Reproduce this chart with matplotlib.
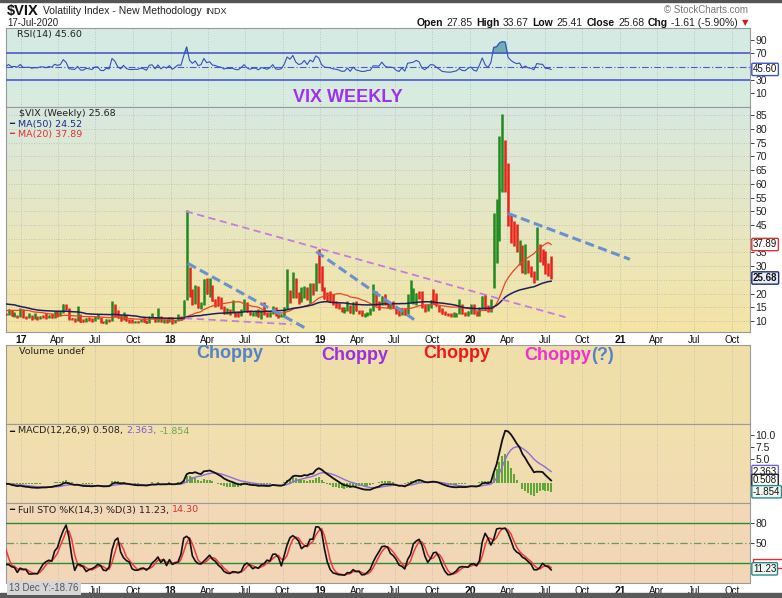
import numpy as np
import pandas as pd
import matplotlib
matplotlib.use("Agg")
import matplotlib.pyplot as plt
import matplotlib.dates as mdates
from matplotlib.colors import LinearSegmentedColormap
from matplotlib.patches import Rectangle

# ==============================
# WEEKLY $VIX DATA (Fridays)
# ==============================

close_2015 = [14.81, 24.39, 20.70, 15.74]
close_2016 = [18.21, 27.01, 27.02, 22.34, 20.20, 23.38, 25.40, 20.53, 19.81, 16.86,
              16.50, 14.02, 14.74, 13.10, 15.36, 13.62, 13.22, 15.70, 14.72, 15.04,
              15.20, 13.12, 13.47, 17.03, 19.41, 25.76, 14.77, 13.20, 12.67, 12.02,
              11.87, 11.39, 11.55, 11.34, 13.65, 11.98, 17.50, 15.37, 12.29, 13.29,
              13.48, 16.12, 13.34, 16.19, 22.51, 14.17, 12.85, 12.34, 14.12, 11.75,
              12.20, 11.44, 14.04]
close_2017 = [11.32, 11.23, 11.54, 10.58, 10.97, 10.85, 11.49, 11.47, 10.96, 11.66,
              11.28, 12.96, 12.37, 12.87, 15.96, 14.63, 10.82, 10.57, 10.40, 12.04,
              9.81, 9.75, 10.70, 10.38, 10.02, 11.18, 11.19, 9.51, 9.36, 10.29,
              10.03, 15.51, 14.26, 11.28, 10.13, 12.12, 10.17, 9.59, 9.51, 9.65,
              9.61, 10.15, 9.80, 9.14, 11.29, 11.43, 9.67, 11.43, 9.58, 10.49,
              9.90, 11.04]
close_2018 = [9.22, 10.16, 11.27, 11.08, 17.31, 29.06, 19.46, 16.49, 19.59, 14.64,
              15.80, 24.87, 19.97, 21.49, 17.41, 16.88, 15.41, 14.77, 12.65, 13.42,
              13.22, 13.46, 12.18, 11.98, 13.77, 16.09, 13.37, 12.18, 12.86, 13.03,
              11.64, 13.16, 12.64, 11.99, 12.86, 14.88, 12.07, 11.68, 12.12, 14.82,
              21.31, 19.89, 24.16, 19.51, 17.36, 18.14, 21.52, 18.07, 23.23, 21.63,
              30.11, 28.34]
close_2019 = [21.38, 18.19, 17.80, 17.42, 16.14, 15.72, 14.91, 13.51, 13.57, 16.05,
              12.88, 16.48, 13.71, 12.82, 12.01, 12.09, 12.73, 12.87, 16.04, 15.96,
              15.85, 18.71, 16.30, 15.28, 15.40, 15.08, 13.28, 12.39, 14.45, 12.16,
              17.61, 17.97, 18.47, 19.87, 18.98, 15.00, 13.74, 15.32, 17.22, 17.04,
              15.58, 14.25, 12.65, 12.30, 12.07, 12.05, 12.34, 12.62, 13.62, 12.63,
              12.51, 13.43]
close_2020 = [14.02, 12.56, 12.10, 14.56, 18.84, 15.47, 13.68, 17.08, 40.11, 41.94,
              57.83, 66.04, 65.54, 46.80, 41.67, 38.15, 35.93, 37.19, 27.98, 31.89,
              28.16, 27.51, 24.52, 36.09, 35.12, 34.73, 27.68, 27.29, 25.68]

# highs / lows start 1-Jul-2016
high_2016 = [26.7, 16.9, 14.0, 13.3, 13.1, 13.4, 12.3, 12.9, 14.0, 14.0,
             17.9, 20.5, 15.6, 15.7, 14.0, 17.1, 16.3, 16.4, 22.9, 23.0,
             15.2, 13.1, 14.4, 14.0, 13.2, 12.3, 14.7]
low_2016 = [14.5, 13.0, 12.4, 11.9, 11.7, 11.2, 11.0, 11.2, 11.3, 11.8,
            11.0, 14.9, 12.1, 12.3, 12.7, 13.4, 13.1, 13.1, 16.8, 12.8,
            12.6, 12.3, 12.3, 11.7, 11.3, 11.0, 11.5]
high_2017 = [14.3, 11.9, 12.9, 12.2, 12.9, 12.0, 11.9, 12.1, 13.0, 12.3,
             12.8, 13.6, 13.8, 13.7, 16.3, 16.3, 14.9, 11.1, 11.0, 15.6,
             12.4, 10.6, 11.0, 11.3, 11.1, 12.0, 12.4, 11.6, 10.0, 10.9,
             10.8, 17.3, 16.1, 14.1, 12.2, 13.4, 12.1, 10.6, 10.6, 10.0,
             10.0, 10.7, 11.6, 10.4, 11.5, 13.1, 11.5, 14.6, 11.7, 10.8,
             10.6, 11.3]
low_2017 = [11.0, 10.9, 11.2, 10.3, 10.6, 10.5, 10.6, 11.0, 10.7, 11.0,
            11.2, 11.1, 11.5, 11.9, 12.9, 13.9, 10.4, 10.2, 9.6, 10.1,
            9.8, 9.6, 9.6, 9.9, 9.8, 9.9, 10.9, 9.4, 9.2, 8.8,
            9.6, 10.1, 11.6, 11.0, 10.1, 10.4, 10.1, 9.4, 9.3, 9.1,
            9.2, 9.5, 9.6, 9.1, 9.2, 11.0, 9.5, 9.5, 9.5, 9.3,
            9.3, 9.6]
high_2018 = [11.3, 10.4, 12.7, 11.7, 17.8, 50.3, 29.6, 21.6, 23.0, 22.6,
             17.1, 25.2, 25.7, 25.6, 23.2, 18.0, 19.1, 18.8, 15.5, 14.6,
             14.4, 17.7, 13.7, 13.6, 14.4, 18.2, 17.0, 14.0, 13.4, 14.1,
             14.5, 14.2, 16.9, 13.2, 13.3, 15.6, 15.2, 13.2, 12.6, 15.0,
             28.8, 21.3, 27.9, 25.5, 20.6, 22.5, 22.6, 22.5, 23.8, 24.0,
             31.2, 36.2]
low_2018 = [9.0, 9.2, 9.9, 10.3, 11.0, 17.6, 18.9, 15.8, 16.2, 14.6,
            14.3, 15.8, 19.7, 18.9, 17.2, 15.2, 15.3, 14.4, 12.6, 12.5,
            12.3, 13.0, 11.6, 11.6, 12.0, 13.5, 13.3, 12.1, 11.9, 12.0,
            11.6, 10.8, 12.3, 11.6, 11.6, 12.5, 12.0, 11.1, 11.5, 11.6,
            14.5, 16.5, 18.4, 18.4, 16.2, 17.0, 18.5, 17.8, 16.4, 19.4,
            20.9, 24.0]
high_2019 = [29.9, 22.3, 20.5, 20.8, 20.0, 17.4, 16.5, 15.2, 15.1, 17.2,
             16.0, 17.0, 17.3, 14.2, 14.0, 13.1, 13.3, 14.8, 23.4, 20.8,
             17.4, 19.0, 19.9, 16.6, 16.3, 17.3, 15.5, 14.5, 14.5, 14.9,
             20.0, 24.8, 22.1, 20.3, 21.1, 20.9, 16.3, 16.1, 17.6, 21.5,
             20.1, 16.0, 14.9, 13.8, 13.0, 12.9, 13.4, 13.0, 17.9, 16.1,
             13.2, 13.8]
low_2019 = [21.0, 17.9, 17.4, 16.9, 15.8, 14.9, 14.5, 13.3, 13.0, 13.6,
            12.8, 12.6, 13.5, 12.7, 11.9, 11.6, 11.9, 12.3, 13.6, 15.3,
            14.0, 15.7, 15.9, 14.9, 14.4, 14.9, 12.4, 12.0, 12.2, 12.1,
            12.6, 16.7, 16.2, 15.7, 17.9, 14.7, 13.3, 13.7, 14.6, 16.2,
            15.4, 13.3, 12.6, 12.1, 11.9, 11.5, 11.6, 11.6, 12.7, 12.4,
            11.7, 11.8]
high_2020 = [16.2, 16.2, 13.8, 15.1, 19.0, 19.8, 16.0, 17.9, 49.5, 54.4,
             77.6, 85.5, 76.0, 67.5, 49.0, 46.4, 45.4, 39.5, 37.8, 38.0,
             32.1, 30.0, 28.1, 44.4, 37.9, 36.4, 35.6, 31.0, 33.67]
low_2020 = [12.4, 12.4, 11.7, 11.8, 14.5, 14.0, 13.4, 13.4, 22.0, 31.0,
            39.0, 57.0, 57.0, 44.5, 38.5, 37.2, 35.1, 30.5, 27.5, 27.1,
            27.6, 26.2, 24.0, 24.8, 31.5, 30.6, 27.2, 26.4, 25.41]

# last values printed on the chart
rsi_last = 45.60
ma50_last, ma20_last = 24.52, 37.89
close_last = 25.68
macd_last, signal_last, hist_last = 0.508, 2.363, -1.854
stok_last, stod_last = 11.23, 14.30

# hand-drawn trendlines: (start date, start value, end date, end value)
purple_lines = [("2018-02-07", 50.0, "2020-08-21", 11.4),
                ("2018-02-05", 11.0, "2018-10-23", 8.8)]
blue_lines = [("2018-02-12", 31.0, "2018-11-27", 7.3),
              ("2018-12-22", 35.3, "2019-08-19", 10.4),
              ("2020-04-03", 49.2, "2021-01-25", 32.5)]

# ==============================
# BUILD FRAME + INDICATORS
# ==============================

weeks = pd.date_range("2015-12-04", "2020-07-17", freq="W-FRI")
closes = close_2015 + close_2016 + close_2017 + close_2018 + close_2019 + close_2020
highs = high_2016 + high_2017 + high_2018 + high_2019 + high_2020
lows = low_2016 + low_2017 + low_2018 + low_2019 + low_2020
pad = len(closes) - len(highs)

df = pd.DataFrame({"close": closes,
                   "high": [np.nan] * pad + highs,
                   "low": [np.nan] * pad + lows}, index=weeks)

df["ma50"] = df["close"].rolling(50).mean()
df["ma20"] = df["close"].rolling(20).mean()

delta = df["close"].diff()
gain = delta.clip(lower=0).ewm(alpha=1 / 14, adjust=False).mean()
loss = (-delta.clip(upper=0)).ewm(alpha=1 / 14, adjust=False).mean()
df["rsi"] = 100 - 100 / (1 + gain / loss)

ema12 = df["close"].ewm(span=12, adjust=False).mean()
ema26 = df["close"].ewm(span=26, adjust=False).mean()
df["macd"] = ema12 - ema26
df["signal"] = df["macd"].ewm(span=9, adjust=False).mean()
df["hist"] = df["macd"] - df["signal"]

ll = df["low"].rolling(14).min()
hh = df["high"].rolling(14).max()
fast_k = 100 * (df["close"] - ll) / (hh - ll)
df["stok"] = fast_k.rolling(3).mean()
df["stod"] = df["stok"].rolling(3).mean()

df["up"] = df["close"] >= df["close"].shift(1)
vis = df[df.index >= "2016-11-20"]
x = mdates.date2num(vis.index.to_pydatetime())

# ==============================
# FIGURE / PANELS
# ==============================

W, H = 782, 598
fig = plt.figure(figsize=(W / 100, H / 100), dpi=100)
fig.patch.set_facecolor("white")
plt.rcParams["font.family"] = ["Liberation Sans", "DejaVu Sans"]


def fx(px):
    return px / W


def fy(py):
    return 1 - py / H


def panel(top, bottom):
    return fig.add_axes([fx(6), fy(bottom), fx(750) - fx(6), (bottom - top) / H])


def bg(ax, top_col, bottom_col):
    cmap = LinearSegmentedColormap.from_list("bg", [bottom_col, top_col])
    grad = np.linspace(0, 1, 256).reshape(-1, 1)
    ax.imshow(grad, aspect="auto", cmap=cmap, extent=(0, 1, 0, 1),
              transform=ax.transAxes, origin="lower", zorder=0)


x0 = mdates.date2num(pd.Timestamp("2017-01-01")) - 36.6
x1 = mdates.date2num(pd.Timestamp("2017-01-01")) + 4.868 * 365.25

qticks, qlabels = [], []
for yr in range(2017, 2022):
    for m, lab in [(1, str(yr)[2:]), (4, "Apr"), (7, "Jul"), (10, "Oct")]:
        qticks.append(mdates.date2num(pd.Timestamp(yr, m, 1)))
        qlabels.append(lab)


def style(ax, ylim, yticks, ylabels=None, xlabels=None, hgrid=True):
    ax.set_xlim(x0, x1)
    ax.set_ylim(*ylim)
    ax.yaxis.tick_right()
    ax.set_yticks(yticks)
    if ylabels is not None:
        ax.set_yticklabels(ylabels)
    ax.tick_params(axis="y", direction="out", length=3, width=0.6, pad=1,
                   labelsize=7.5, colors="#222222")
    ax.set_xticks(qticks)
    ax.tick_params(axis="x", length=0, pad=2, labelsize=7, colors="#111111")
    if xlabels is not None:
        ax.set_xticklabels(xlabels)
        for t in ax.get_xticklabels():
            if t.get_text().isdigit():
                t.set_fontweight("bold")
                t.set_fontsize(7.5)
    else:
        ax.set_xticklabels([])
    ax.grid(axis="x", color="#b9b9b0", lw=0.6, ls=(0, (1, 2)), zorder=1)
    if hgrid:
        ax.grid(axis="y", color="#b9b9b0", lw=0.6, ls=(0, (1, 2)), zorder=1)
    for sp in ax.spines.values():
        sp.set_color("#9a9a9a")
        sp.set_linewidth(0.8)


ax_rsi = panel(28, 107)
ax_px = panel(107, 332)
ax_vol = panel(345, 424)
ax_macd = panel(424, 503)
ax_sto = panel(503, 583)

bg(ax_rsi, "#d4eae3", "#d8ecdf")
bg(ax_px, "#d8e9e0", "#f5e4a4")
bg(ax_vol, "#efdfa9", "#efdea9")
bg(ax_macd, "#f1e0ad", "#f2dbb3")
bg(ax_sto, "#f2d9b6", "#f3d6b8")

# ------------------------------
# RSI
# ------------------------------
ax_rsi.plot(x, vis["rsi"], color="#3550c0", lw=0.8, zorder=4)
ax_rsi.fill_between(x, vis["rsi"], 70, where=vis["rsi"] > 70,
                    color="#5b9ea6", alpha=0.8, zorder=3, interpolate=True)
ax_rsi.axhline(70, color="#4a5cc8", lw=1.2, zorder=3)
ax_rsi.axhline(30, color="#4a5cc8", lw=1.2, zorder=3)
ax_rsi.axhline(50, color="#4a5cc8", lw=0.8, ls=(0, (6, 2, 1, 2)), zorder=3)
style(ax_rsi, (-11, 108), [10, 30, 50, 70, 90],
      ylabels=["10", "30", "", "70", "90"], hgrid=False)

# ------------------------------
# PRICE
# ------------------------------
green, red = "#1f8a1f", "#e8231a"
up = vis["up"].values
for mask, col in [(up, green), (~up, red)]:
    ax_px.vlines(x[mask], vis["low"].values[mask], vis["high"].values[mask],
                 color=col, lw=1.8, zorder=4)
    ax_px.hlines(vis["close"].values[mask], x[mask], x[mask] + 2.6,
                 color=col, lw=1.1, zorder=4)

ax_px.plot(x, vis["ma20"], color="#e8452a", lw=0.9, zorder=5)
ax_px.plot(x, vis["ma50"], color="#1c1f5e", lw=1.1, zorder=5)

for d0, v0, d1, v1 in purple_lines:
    ax_px.plot(mdates.date2num([pd.Timestamp(d0), pd.Timestamp(d1)]), [v0, v1],
               color="#c47ddc", lw=1.3, ls=(0, (4, 2.5)), zorder=6)
for d0, v0, d1, v1 in blue_lines:
    ax_px.plot(mdates.date2num([pd.Timestamp(d0), pd.Timestamp(d1)]), [v0, v1],
               color="#6a90cf", lw=2.2, ls=(0, (3, 1.5)), zorder=6)

px_ticks = list(range(10, 90, 5))
px_labels = ["" if v in (25, 40) else str(v) for v in px_ticks]
style(ax_px, (6, 88), px_ticks, ylabels=px_labels, xlabels=qlabels)

# ------------------------------
# VOLUME (empty)
# ------------------------------
style(ax_vol, (0, 1), [], hgrid=False)

# ------------------------------
# MACD
# ------------------------------
ax_macd.vlines(x, 0, vis["hist"], color="#5aa632", lw=1.4, zorder=3)
ax_macd.plot(x, vis["signal"], color="#8c6fd8", lw=1.0, zorder=4)
ax_macd.plot(x, vis["macd"], color="#111111", lw=1.3, zorder=5)
style(ax_macd, (-4.2, 12.3), [-2.5, 0, 2.5, 5, 7.5, 10],
      ylabels=["", "", "", "5.0", "7.5", "10.0"], hgrid=False)

# ------------------------------
# FULL STOCHASTIC
# ------------------------------
ax_sto.axhline(80, color="#2e8b2e", lw=1.0, zorder=3)
ax_sto.axhline(20, color="#2e8b2e", lw=1.0, zorder=3)
ax_sto.axhline(50, color="#6f9a55", lw=0.9, ls=(0, (6, 2, 1, 2)), zorder=3)
ax_sto.plot(x, vis["stod"], color="#ef3b3b", lw=1.1, zorder=4)
ax_sto.plot(x, vis["stok"], color="#111111", lw=1.2, zorder=5)
sto_xlabels = ["", ""] + qlabels[2:]
style(ax_sto, (-10, 110), [20, 50, 80], ylabels=["", "50", "80"],
      xlabels=sto_xlabels, hgrid=False)

# ------------------------------
# LAST VALUE TAGS
# ------------------------------


def tag(ax, val, txt, ec, fc="white", weight="normal"):
    ax.text(1.004, val, txt, transform=ax.get_yaxis_transform(),
            ha="left", va="center", fontsize=7, fontweight=weight,
            color="#111111", zorder=20, clip_on=False,
            bbox=dict(boxstyle="round,pad=0.12", fc=fc, ec=ec, lw=1.0))


tag(ax_rsi, rsi_last, f"{rsi_last:.2f}", "#3a55c8")
tag(ax_px, ma20_last, f"{ma20_last:.2f}", "#e03030")
tag(ax_px, close_last, f"{close_last:.2f}", "#1c2a6a", fc="#e8eef8", weight="bold")
tag(ax_macd, signal_last, f"{signal_last:.3f}", "#7a5fd0")
tag(ax_macd, macd_last, f"{macd_last:.3f}", "#222222")
tag(ax_macd, hist_last, f"{hist_last:.3f}", "#2a8a8a", fc="#eef6f2")

# %D tag sits behind the %K tag, only its red frame peeks out
ax_sto.add_patch(Rectangle((1.004, stod_last - 2), 0.042, 13,
                           transform=ax_sto.get_yaxis_transform(),
                           fc="white", ec="#e03030", lw=1.0,
                           clip_on=False, zorder=19))
tag(ax_sto, stok_last, f"{stok_last:.2f}", "#2a8a8a", fc="#eef6f2")

# ==============================
# TEXT
# ==============================

renderer = fig.canvas.get_renderer()


def run_left(x_px, y_px, parts, gap=4):
    xp = x_px
    for s, kw in parts:
        t = fig.text(fx(xp), fy(y_px), s, ha="left", va="center", **kw)
        xp += t.get_window_extent(renderer).width + gap


def run_right(x_px, y_px, parts, gap=3.5):
    xp = x_px
    for s, kw in reversed(parts):
        t = fig.text(fx(xp), fy(y_px), s, ha="right", va="center", **kw)
        xp -= t.get_window_extent(renderer).width + gap


run_left(7, 11, [("$VIX", dict(fontsize=10.5, fontweight="bold", color="#111")),
                 ("Volatility Index - New Methodology", dict(fontsize=7.5, color="#222")),
                 ("INDX", dict(fontsize=6.5, color="#222"))])
fig.text(fx(7), fy(23), "17-Jul-2020", fontsize=7, color="#222", va="center")
fig.text(fx(748), fy(10), "© StockCharts.com", fontsize=7, color="#777", ha="right", va="center")

b = dict(fontsize=7.5, fontweight="bold", color="#111")
n = dict(fontsize=7.5, color="#222")
run_right(748, 23, [("Open", b), ("27.85", n), ("High", b), ("33.67", n),
                    ("Low", b), ("25.41", n), ("Close", b), ("25.68", n),
                    ("Chg", b), ("-1.61 (-5.90%)", n),
                    ("▼", dict(fontsize=6, color="#d02020", family="DejaVu Sans"))])

lab = dict(fontsize=6.8, family="DejaVu Sans")
fig.text(fx(17), fy(34), "RSI(14) 45.60", color="#222", va="center", **lab)
fig.text(fx(19), fy(114), "$VIX (Weekly) 25.68", color="#222", va="center", **lab)
fig.text(fx(9), fy(124), "━", color="#1c1f5e", va="center", fontsize=6, family="DejaVu Sans")
fig.text(fx(18), fy(124), "MA(50) 24.52", color="#1c2a8a", va="center", **lab)
fig.text(fx(9), fy(134), "━", color="#e03030", va="center", fontsize=6, family="DejaVu Sans")
fig.text(fx(18), fy(134), "MA(20) 37.89", color="#e03030", va="center", **lab)
fig.text(fx(19), fy(352), "Volume undef", color="#222", va="center", **lab)
fig.text(fx(9), fy(431), "━", color="#111", va="center", fontsize=6, family="DejaVu Sans")
run_left(18, 431, [("MACD(12,26,9) 0.508,", dict(color="#222", **lab)),
                   ("2.363,", dict(color="#7a5fd0", **lab)),
                   ("-1.854", dict(color="#6aa84f", **lab))], gap=3)
fig.text(fx(9), fy(510), "━", color="#111", va="center", fontsize=6, family="DejaVu Sans")
run_left(18, 510, [("Full STO %K(14,3) %D(3) 11.23,", dict(color="#222", **lab)),
                   ("14.30", dict(color="#e03030", **lab))], gap=3)

fig.text(fx(9), fy(588), "13 Dec Y:-18.76", fontsize=7, color="#555", va="center",
         bbox=dict(boxstyle="square,pad=0.25", fc="#d6d6d6", ec="none"))

# chart annotations
fig.text(fx(348), fy(97), "VIX WEEKLY", fontsize=13, fontweight="bold",
         color="#a030f0", ha="center", va="center")
fig.text(fx(230), fy(354), "Choppy", fontsize=13, fontweight="bold",
         color="#5383c6", ha="center", va="center")
fig.text(fx(355), fy(355), "Choppy", fontsize=13, fontweight="bold",
         color="#9a30e0", ha="center", va="center")
fig.text(fx(457), fy(354), "Choppy", fontsize=13, fontweight="bold",
         color="#f01818", ha="center", va="center")
run_left(524, 355, [("Choppy", dict(fontsize=13, fontweight="bold", color="#f030d0")),
                    ("(?)", dict(fontsize=13, fontweight="bold", color="#5383c6"))], gap=0)

# frame bands
fig.patches.append(Rectangle((0, fy(2)), 1, 2 / H, transform=fig.transFigure,
                             color="#555555", zorder=0))
fig.patches.append(Rectangle((0, 0), 1, 5 / H, transform=fig.transFigure,
                             color="#5a5a5a", zorder=0))

plt.savefig("out.png", dpi=100)
plt.close()
